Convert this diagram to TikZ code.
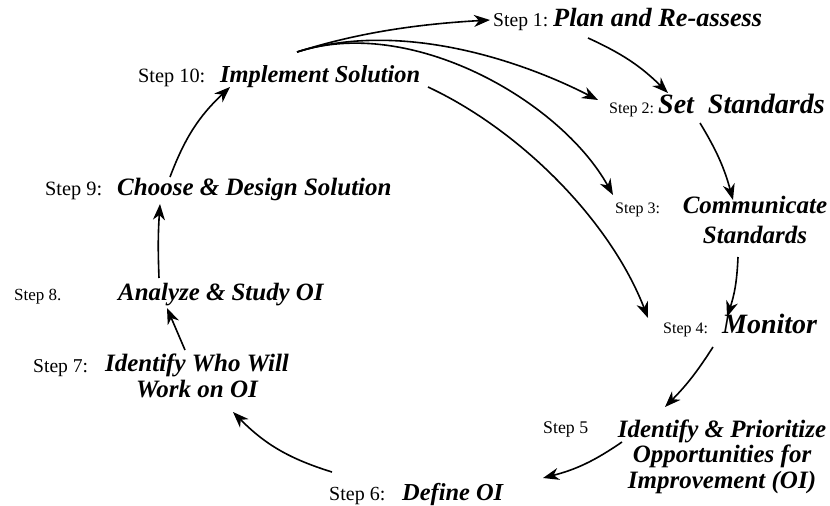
\documentclass[tikz,border=0pt]{standalone}
\usepackage{fontspec}
\setmainfont{Liberation Serif}
\usetikzlibrary{arrows.meta}
\begin{document}
\begin{tikzpicture}[x=1pt,y=1pt,
  steplbl/.style={inner sep=0pt, anchor=base west, font=\fontsize{#1}{22}\selectfont},
  steplbl/.default=20,
  ttl/.style={inner sep=0pt, anchor=base west, font=\fontsize{#1}{25.5}\selectfont\bfseries\itshape},
  ttl/.default=25,
  ttlc/.style={inner sep=0pt, anchor=base, align=center, font=\fontsize{25}{25.5}\selectfont\bfseries\itshape},
  flow/.style={line width=1.6pt, -{Stealth[length=16pt,width=12pt,inset=5pt]}}]
\useasboundingbox (0,0) rectangle (830,-506);
% labels
\node[steplbl=19.6] (s1) at (493,-27) {Step 1:};
\node[ttl=26.3] (t1) at (553,-27) {Plan and Re-assess};
\node[steplbl=16] (s2) at (609,-113) {Step 2:};
\node[ttl=28] (t2) at (658,-113) {Set\ \ Standards};
\node[steplbl=16] (s3) at (615,-213) {Step 3:};
\node[ttlc] (t3) at (755,-243) {Communicate\\[4.5pt]Standards};
\node[steplbl=16] (s4) at (663,-333) {Step 4:};
\node[ttl=28] (t4) at (722,-333) {Monitor};
\node[steplbl=17.8] (s5) at (543,-433) {Step 5};
\node[ttlc] (t5) at (722,-488) {Identify \& Prioritize\\Opportunities for\\Improvement (OI)};
\node[steplbl=20] (s6) at (329,-500) {Step 6:};
\node[ttl=24.4] (t6) at (402,-500) {Define OI};
\node[steplbl=19.6] (s7) at (33,-372) {Step 7:};
\node[ttlc] (t7) at (197,-397) {Identify Who Will\\Work on OI};
\node[steplbl=17] (s8) at (14,-300) {Step 8.};
\node[ttl=24.9] (t8) at (118,-300) {Analyze \& Study OI};
\node[steplbl=20.3] (s9) at (45,-195) {Step 9:};
\node[ttl=25] (t9) at (117,-195) {Choose \& Design Solution};
\node[steplbl=20.3] (s10) at (138,-82) {Step 10:};
\node[ttl=24.4] (t10) at (220,-82) {Implement Solution};
% connector ends
\coordinate (f0) at (297,-52);
\coordinate (f1) at (490,-20);
\coordinate (f2) at (598,-100);
\coordinate (f3) at (613,-195);
\coordinate (g0) at (428,-87);
\coordinate (g4) at (648,-318);
\coordinate (a1) at (588,-38);   \coordinate (b2) at (668,-93);
\coordinate (a2) at (700,-123);  \coordinate (b3) at (733,-200);
\coordinate (a3) at (738,-257);  \coordinate (b4) at (727,-317);
\coordinate (a4) at (713,-347);  \coordinate (b5) at (665,-407);
\coordinate (a5) at (622,-442);  \coordinate (b6) at (543,-478);
\coordinate (a6) at (332,-472);  \coordinate (b7) at (233,-412);
\coordinate (a7) at (185,-350);  \coordinate (b8) at (167,-308);
\coordinate (a8) at (159,-278);  \coordinate (b9) at (160,-204);
\coordinate (a9) at (170,-177);  \coordinate (b10) at (230,-87);
% connectors
\draw[flow] (f0) .. controls (360,-32) and (420,-24) .. (f1);
\draw[flow] (f0) .. controls (400,-20) and (520,-60) .. (f2);
\draw[flow] (f0) .. controls (410,-15) and (560,-100) .. (f3);
\draw[flow] (g0) .. controls (520,-130) and (610,-220) .. (g4);
\draw[flow] (a1) to[bend left=10] (b2);
\draw[flow] (a2) to[bend left=8] (b3);
\draw[flow] (a3) to[bend left=8] (b4);
\draw[flow] (a4) to[bend left=6] (b5);
\draw[flow] (a5) to[bend left=10] (b6);
\draw[flow] (a6) to[bend left=14] (b7);
\draw[flow] (a7) -- (b8);
\draw[flow] (a8) to[bend left=3] (b9);
\draw[flow] (a9) to[bend left=13] (b10);
\end{tikzpicture}
\end{document}
